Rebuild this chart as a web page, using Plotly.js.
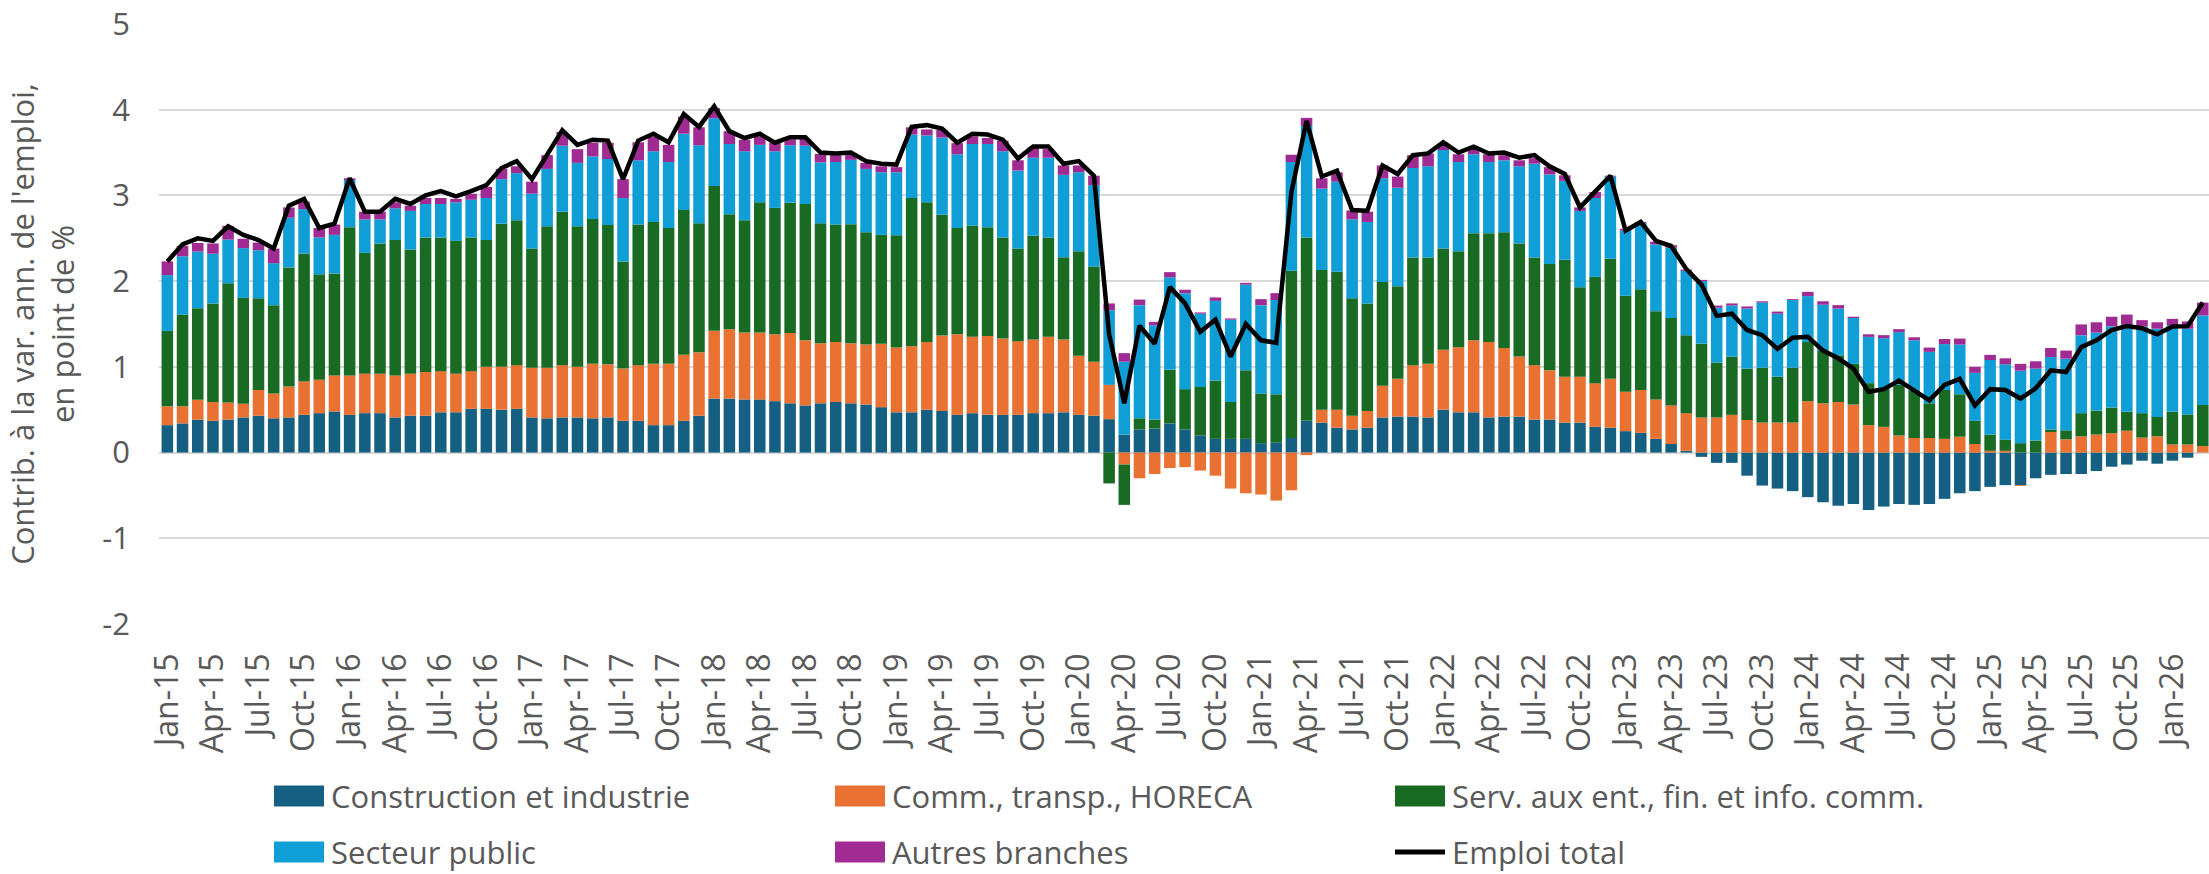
<!DOCTYPE html>
<html>
<head>
<meta charset="utf-8">
<script src="https://cdn.plot.ly/plotly-3.0.1.min.js"></script>
<style>
  html, body { margin: 0; padding: 0; background: #ffffff; }
  #chart { width: 2209px; height: 874px; }
</style>
</head>
<body>
<div id="chart"></div>
<script>
// ---------- DATA ----------
const months = [
  "Jan-15","Feb-15","Mar-15","Apr-15","May-15","Jun-15","Jul-15","Aug-15","Sep-15","Oct-15","Nov-15","Dec-15",
  "Jan-16","Feb-16","Mar-16","Apr-16","May-16","Jun-16","Jul-16","Aug-16","Sep-16","Oct-16","Nov-16","Dec-16",
  "Jan-17","Feb-17","Mar-17","Apr-17","May-17","Jun-17","Jul-17","Aug-17","Sep-17","Oct-17","Nov-17","Dec-17",
  "Jan-18","Feb-18","Mar-18","Apr-18","May-18","Jun-18","Jul-18","Aug-18","Sep-18","Oct-18","Nov-18","Dec-18",
  "Jan-19","Feb-19","Mar-19","Apr-19","May-19","Jun-19","Jul-19","Aug-19","Sep-19","Oct-19","Nov-19","Dec-19",
  "Jan-20","Feb-20","Mar-20","Apr-20","May-20","Jun-20","Jul-20","Aug-20","Sep-20","Oct-20","Nov-20","Dec-20",
  "Jan-21","Feb-21","Mar-21","Apr-21","May-21","Jun-21","Jul-21","Aug-21","Sep-21","Oct-21","Nov-21","Dec-21",
  "Jan-22","Feb-22","Mar-22","Apr-22","May-22","Jun-22","Jul-22","Aug-22","Sep-22","Oct-22","Nov-22","Dec-22",
  "Jan-23","Feb-23","Mar-23","Apr-23","May-23","Jun-23","Jul-23","Aug-23","Sep-23","Oct-23","Nov-23","Dec-23",
  "Jan-24","Feb-24","Mar-24","Apr-24","May-24","Jun-24","Jul-24","Aug-24","Sep-24","Oct-24","Nov-24","Dec-24",
  "Jan-25","Feb-25","Mar-25","Apr-25","May-25","Jun-25","Jul-25","Aug-25","Sep-25","Oct-25","Nov-25","Dec-25",
  "Jan-26","Feb-26","Mar-26"
];

const tickLabels = [
  "Jan-15","Apr-15","Jul-15","Oct-15","Jan-16","Apr-16","Jul-16","Oct-16","Jan-17","Apr-17","Jul-17","Oct-17",
  "Jan-18","Apr-18","Jul-18","Oct-18","Jan-19","Apr-19","Jul-19","Oct-19","Jan-20","Apr-20","Jul-20","Oct-20",
  "Jan-21","Apr-21","Jul-21","Oct-21","Jan-22","Apr-22","Jul-22","Oct-22","Jan-23","Apr-23","Jul-23","Oct-23",
  "Jan-24","Apr-24","Jul-24","Oct-24","Jan-25","Apr-25","Jul-25","Oct-25","Jan-26"
];

const yTickVals = [-2, -1, 0, 1, 2, 3, 4, 5];
const yTickText = ["-2", "-1", "0", "1", "2", "3", "4", "5"];

const construction = [
  0.32,0.34,0.385,0.37,0.385,0.41,0.43,0.40,0.41,0.44,0.46,0.48,
  0.44,0.46,0.46,0.41,0.43,0.43,0.47,0.47,0.51,0.51,0.50,0.51,
  0.41,0.40,0.41,0.41,0.40,0.41,0.37,0.37,0.32,0.32,0.37,0.43,
  0.63,0.63,0.62,0.62,0.60,0.575,0.55,0.575,0.59,0.575,0.56,0.53,
  0.47,0.47,0.50,0.485,0.44,0.46,0.44,0.44,0.44,0.46,0.46,0.47,
  0.44,0.43,0.39,0.21,0.27,0.28,0.34,0.27,0.20,0.16,0.16,0.16,
  0.11,0.12,0.17,0.37,0.35,0.29,0.27,0.29,0.41,0.42,0.42,0.41,
  0.50,0.47,0.47,0.41,0.42,0.42,0.385,0.385,0.35,0.35,0.30,0.29,
  0.25,0.23,0.16,0.10,0.02,-0.05,-0.12,-0.12,-0.27,-0.385,-0.42,-0.45,
  -0.52,-0.58,-0.62,-0.60,-0.67,-0.63,-0.60,-0.61,-0.60,-0.54,-0.475,-0.45,
  -0.40,-0.38,-0.38,-0.30,-0.26,-0.25,-0.25,-0.215,-0.165,-0.14,-0.095,-0.13,
  -0.095,-0.06,0.0
];

const commerce = [
  0.22,0.20,0.23,0.22,0.20,0.16,0.30,0.29,0.36,0.39,0.39,0.42,
  0.46,0.46,0.46,0.49,0.49,0.51,0.48,0.45,0.44,0.49,0.50,0.51,
  0.58,0.59,0.61,0.59,0.635,0.62,0.61,0.65,0.715,0.715,0.77,0.74,
  0.79,0.81,0.78,0.78,0.78,0.82,0.76,0.70,0.70,0.70,0.70,0.74,
  0.755,0.77,0.79,0.88,0.94,0.89,0.92,0.89,0.86,0.86,0.89,0.85,
  0.69,0.63,0.40,-0.14,-0.30,-0.25,-0.18,-0.17,-0.21,-0.27,-0.42,-0.475,
  -0.49,-0.56,-0.44,-0.03,0.15,0.21,0.16,0.195,0.37,0.44,0.60,0.625,
  0.70,0.76,0.84,0.88,0.80,0.70,0.635,0.575,0.535,0.535,0.51,0.57,
  0.46,0.50,0.46,0.45,0.44,0.41,0.41,0.44,0.38,0.35,0.35,0.35,
  0.60,0.575,0.59,0.56,0.32,0.30,0.20,0.17,0.17,0.16,0.185,0.10,
  0.02,0.02,-0.01,0.0,0.24,0.155,0.19,0.21,0.225,0.255,0.175,0.19,
  0.095,0.095,0.075
];

const services = [
  0.88,1.07,1.07,1.15,1.39,1.235,1.07,1.03,1.39,1.49,1.23,1.19,
  1.73,1.41,1.52,1.58,1.45,1.57,1.56,1.55,1.56,1.48,1.67,1.69,
  1.39,1.65,1.79,1.64,1.69,1.625,1.25,1.64,1.655,1.585,1.69,1.505,
  1.69,1.34,1.31,1.52,1.475,1.52,1.59,1.40,1.37,1.39,1.31,1.27,
  1.31,1.73,1.63,1.41,1.24,1.30,1.27,1.18,1.08,1.21,1.16,0.96,
  1.22,1.11,-0.36,-0.47,0.13,0.105,0.625,0.47,0.565,0.68,0.43,0.80,
  0.58,0.56,1.95,2.14,1.63,1.61,1.37,1.255,1.21,1.08,1.255,1.24,
  1.18,1.12,1.25,1.27,1.35,1.32,1.255,1.24,1.365,1.045,1.24,1.40,
  1.12,1.175,1.03,1.02,0.91,0.86,0.64,0.68,0.60,0.64,0.535,0.64,
  0.69,0.61,0.545,0.475,0.49,0.44,0.59,0.55,0.405,0.57,0.495,0.27,
  0.19,0.13,0.11,0.14,0.03,0.105,0.27,0.28,0.30,0.22,0.285,0.225,
  0.38,0.35,0.48
];

const publicSector = [
  0.65,0.68,0.66,0.58,0.51,0.58,0.56,0.49,0.58,0.52,0.43,0.45,
  0.55,0.39,0.28,0.37,0.45,0.39,0.39,0.45,0.44,0.49,0.52,0.55,
  0.64,0.67,0.77,0.74,0.73,0.77,0.74,0.75,0.825,0.77,0.89,0.91,
  0.79,0.82,0.805,0.67,0.66,0.67,0.68,0.71,0.73,0.75,0.74,0.73,
  0.735,0.74,0.78,0.90,0.86,0.95,0.97,1.005,0.91,0.91,0.93,0.96,
  0.92,0.95,0.87,0.85,1.32,1.10,1.08,1.12,0.855,0.93,0.96,1.00,
  1.03,1.10,1.27,1.30,0.95,1.05,0.92,0.95,1.21,1.15,1.045,1.065,
  1.15,1.04,0.92,0.83,0.84,0.90,1.095,1.045,0.92,0.89,0.92,0.96,
  0.76,0.77,0.78,0.82,0.75,0.73,0.64,0.595,0.70,0.76,0.735,0.79,
  0.535,0.54,0.545,0.535,0.54,0.595,0.615,0.59,0.60,0.535,0.58,0.56,
  0.87,0.88,0.845,0.84,0.845,0.835,0.91,0.91,0.95,1.015,1.01,1.03,
  1.01,1.00,1.045
];

const autres = [
  0.16,0.12,0.10,0.12,0.16,0.11,0.09,0.17,0.12,0.09,0.11,0.12,
  0.02,0.09,0.09,0.07,0.06,0.07,0.07,0.04,0.07,0.13,0.12,0.08,
  0.14,0.16,0.16,0.16,0.16,0.19,0.22,0.21,0.17,0.20,0.20,0.21,
  0.12,0.15,0.135,0.10,0.10,0.07,0.08,0.10,0.08,0.06,0.07,0.07,
  0.06,0.085,0.07,0.09,0.13,0.09,0.07,0.125,0.12,0.12,0.10,0.11,
  0.08,0.11,0.08,0.10,0.065,0.04,0.06,0.04,0.015,0.04,0.015,0.02,
  0.07,0.08,0.085,0.095,0.12,0.11,0.105,0.12,0.15,0.13,0.15,0.15,
  0.075,0.09,0.06,0.09,0.06,0.07,0.065,0.085,0.065,0.04,0.07,0.01,
  0.02,0.015,0.03,0.03,0.015,0.015,0.025,0.025,0.025,0.015,0.025,0.01,
  0.05,0.04,0.04,0.015,0.03,0.035,0.035,0.035,0.05,0.06,0.07,0.07,
  0.06,0.07,0.08,0.085,0.105,0.095,0.125,0.12,0.11,0.12,0.075,0.075,
  0.075,0.085,0.15
];

const emploiTotal = [
  2.23,2.43,2.50,2.47,2.64,2.54,2.48,2.38,2.88,2.96,2.62,2.67,
  3.20,2.81,2.81,2.96,2.90,3.00,3.05,2.99,3.05,3.12,3.32,3.40,
  3.19,3.47,3.76,3.59,3.65,3.64,3.19,3.64,3.72,3.62,3.95,3.80,
  4.04,3.75,3.67,3.72,3.615,3.68,3.68,3.50,3.49,3.50,3.40,3.37,
  3.36,3.80,3.82,3.78,3.615,3.72,3.71,3.65,3.43,3.57,3.57,3.37,
  3.40,3.23,1.38,0.575,1.48,1.27,1.93,1.74,1.41,1.55,1.12,1.50,
  1.31,1.28,3.04,3.87,3.22,3.29,2.83,2.82,3.35,3.25,3.47,3.49,
  3.62,3.50,3.57,3.49,3.50,3.44,3.47,3.34,3.25,2.86,3.05,3.23,
  2.59,2.69,2.47,2.41,2.14,1.96,1.595,1.62,1.43,1.37,1.21,1.34,
  1.35,1.19,1.10,0.98,0.71,0.74,0.84,0.73,0.61,0.79,0.86,0.55,
  0.74,0.73,0.63,0.75,0.96,0.94,1.23,1.31,1.43,1.475,1.45,1.38,
  1.47,1.475,1.75
];

const seriesNames = [
  "Construction et industrie",
  "Comm., transp., HORECA",
  "Serv. aux ent., fin. et info. comm.",
  "Secteur public",
  "Autres branches",
  "Emploi total"
];
const seriesColors = ["#156082","#E97132","#196B24","#0F9ED5","#A02B93","#000000"];

// ---------- LAYOUT CONSTANTS ----------
const W = 2209, H = 874;
const M = {l: 159, r: 0, t: 24, b: 250};
const PW = W - M.l - M.r, PH = H - M.t - M.b;
const px2x = px => (px - M.l) / PW;
const py2y = py => (H - M.b - py) / PH;
const textColor = "#595959";
const fontFamily = "'Open Sans', 'Noto Sans', 'DejaVu Sans', sans-serif";

// ---------- TRACES ----------
const barSeries = [construction, commerce, services, publicSector, autres];
const traces = barSeries.map((vals, k) => ({
  type: "bar",
  x: months,
  y: vals,
  name: seriesNames[k],
  marker: {color: seriesColors[k], line: {width: 0}},
  showlegend: false,
  hoverinfo: "skip"
}));
traces.push({
  type: "scatter",
  mode: "lines",
  x: months,
  y: emploiTotal,
  name: seriesNames[5],
  line: {color: "#000000", width: 4.5},
  showlegend: false,
  hoverinfo: "skip"
});

// ---------- CUSTOM LEGEND (shapes + annotations) ----------
const legendCols = [274, 835, 1395];
const legendRows = [796, 852];
const swW = 50, swH = 21;
const shapes = [];
const annotations = [];
seriesNames.forEach((name, k) => {
  const col = legendCols[k % 3];
  const row = legendRows[Math.floor(k / 3)];
  if (k < 5) {
    shapes.push({
      type: "rect", xref: "paper", yref: "paper",
      x0: px2x(col), x1: px2x(col + swW),
      y0: py2y(row + swH / 2), y1: py2y(row - swH / 2),
      fillcolor: seriesColors[k], line: {width: 0}
    });
  } else {
    shapes.push({
      type: "line", xref: "paper", yref: "paper",
      x0: px2x(col), x1: px2x(col + swW),
      y0: py2y(row), y1: py2y(row),
      line: {color: "#000000", width: 5}
    });
  }
  annotations.push({
    xref: "paper", yref: "paper",
    x: px2x(col + swW + 5), y: py2y(row),
    xanchor: "left", yanchor: "middle",
    text: name, showarrow: false,
    font: {family: fontFamily, size: 31, color: textColor}
  });
});

const layout = {
  width: W, height: H,
  margin: M,
  paper_bgcolor: "#ffffff",
  plot_bgcolor: "#ffffff",
  barmode: "relative",
  bargap: 0.24,
  showlegend: false,
  font: {family: fontFamily, color: textColor, size: 31},
  xaxis: {
    type: "category",
    range: [-0.55, 134.41],
    tickmode: "array",
    tickvals: tickLabels,
    ticktext: tickLabels,
    tickangle: -90,
    ticks: "",
    ticklabelstandoff: 22,
    tickfont: {family: fontFamily, size: 32, color: textColor},
    showgrid: false,
    showline: false,
    zeroline: false,
    automargin: false
  },
  yaxis: {
    range: [-2, 5],
    tickmode: "array",
    tickvals: yTickVals,
    ticktext: yTickText,
    ticks: "",
    ticklabelstandoff: 28,
    tickfont: {family: fontFamily, size: 31, color: textColor},
    showgrid: true,
    gridcolor: "#d9d9d9",
    gridwidth: 2,
    zeroline: false,
    showline: false,
    automargin: false,
    title: {
      text: "Contrib. à la var. ann. de l'emploi,<br>en point de %",
      font: {family: fontFamily, size: 31, color: textColor},
      standoff: 18
    }
  },
  shapes: shapes,
  annotations: annotations
};

Plotly.newPlot("chart", traces, layout, {staticPlot: true, displayModeBar: false});
</script>
</body>
</html>
